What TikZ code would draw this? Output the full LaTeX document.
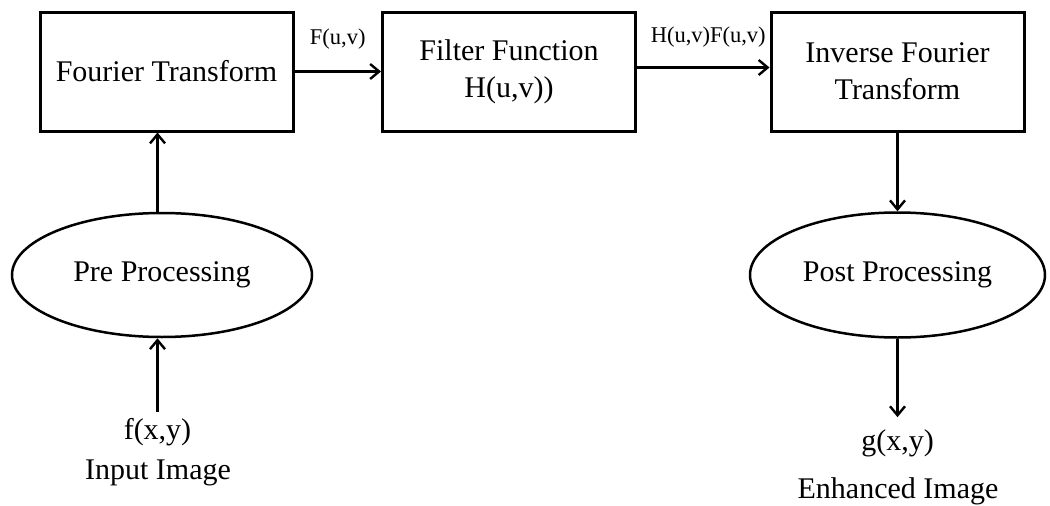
\documentclass[tikz,border=0pt]{standalone}
\usepackage{fontspec}
\setmainfont{Liberation Serif}
\usetikzlibrary{arrows.meta,shapes.geometric}

\tikzset{
  blockbox/.style={draw, line width=3pt, minimum width=253pt, minimum height=119pt,
                   inner sep=0pt, align=center, font=\fontsize{30}{37}\selectfont},
  procoval/.style={draw, ellipse, line width=2.5pt, inner sep=0pt,
                   font=\fontsize{30}{37}\selectfont},
  sigtext/.style={inner sep=0pt, font=\fontsize{30}{37}\selectfont},
  edgetext/.style={inner sep=0pt, font=\fontsize{22.5}{26}\selectfont},
  arr/.style={line width=2.5pt, -{Straight Barb[length=9pt,width=15pt,line width=2.4pt]}},
}

\begin{document}
\begin{tikzpicture}[x=1pt,y=-1pt]
  \useasboundingbox (0,0) rectangle (1050,506);

  % processing chain
  \node[blockbox] (ft)  at (166.5,71.5) {Fourier Transform};
  \node[blockbox] (ff)  at (509,71.5)   {Filter Function\\H(u,v))};
  \node[blockbox] (ift) at (897.5,71.5) {Inverse Fourier\\Transform};

  \node[procoval, minimum width=300pt, minimum height=124pt] (pre)  at (162,275)   {Pre Processing};
  \node[procoval, minimum width=295pt, minimum height=125pt] (post) at (897.5,275) {Post Processing};

  % input and output signals
  \node[sigtext] (fxy) at (157.5,432) {f(x,y)};
  \node[sigtext] (inp) at (158,473)   {Input Image};
  \node[sigtext] (gxy) at (897.5,443) {g(x,y)};
  \node[sigtext] (enh) at (898,491)   {Enhanced Image};

  % connectors
  \draw[arr] ([yshift=6pt]fxy.north) -- (pre.south -| fxy);
  \draw[arr] (pre.north -| fxy) -- (ft.south -| fxy);
  \draw[arr] (ft.east) -- node[edgetext, above=21pt] {F(u,v)} (ff.west);
  \draw[arr] ([yshift=4pt]ff.east) -- node[edgetext, above=19pt, xshift=5pt] {H(u,v)F(u,v)} ([yshift=4pt]ift.west);
  \draw[arr] (ift.south) -- (post.north);
  \draw[arr] (post.south) -- ([yshift=12pt]gxy.north);
\end{tikzpicture}
\end{document}
